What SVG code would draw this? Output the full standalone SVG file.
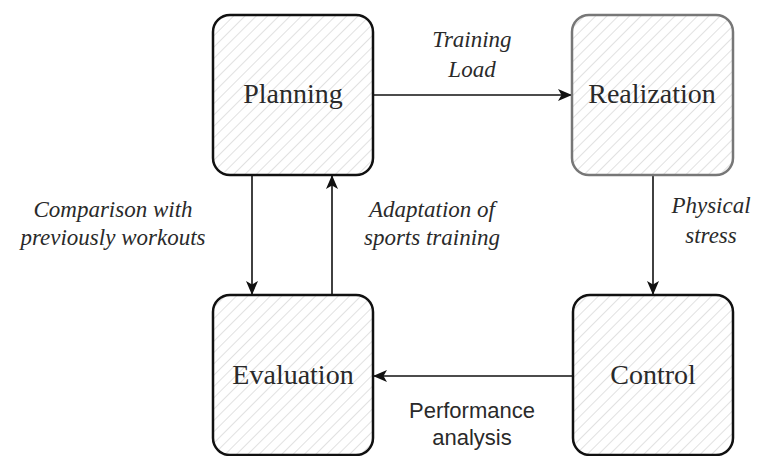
<svg xmlns="http://www.w3.org/2000/svg" width="757" height="456" viewBox="0 0 757 456">
  <style>
    .box { stroke: #111; stroke-width: 2.5; fill: url(#hatch); }
    .box.gray { stroke: #777; }
    .node { font-family: "Liberation Serif", "Times New Roman", serif; font-size: 28px; fill: #2a2a2a; text-anchor: middle; }
    .lbl { font-family: "Liberation Serif", "Times New Roman", serif; font-style: italic; font-size: 23px; fill: #2a2a2a; text-anchor: middle; }
    .sans { font-family: "Liberation Sans", Arial, sans-serif; font-size: 22px; fill: #2a2a2a; text-anchor: middle; }
    .edge { stroke: #111; stroke-width: 1.6; fill: none; marker-end: url(#arrow); }
  </style>
  <defs>
    <pattern id="hatch" patternUnits="userSpaceOnUse" width="8" height="8" patternTransform="rotate(45)">
      <rect width="8" height="8" fill="#fff"/>
      <line x1="0" y1="0" x2="0" y2="8" stroke="#d4d4d4" stroke-width="1.4"/>
    </pattern>
    <marker id="arrow" markerWidth="14" markerHeight="12" refX="13" refY="6" orient="auto" markerUnits="userSpaceOnUse" viewBox="0 0 14 12">
      <path d="M0,0 L14,6 L0,12 L3.5,6 Z" fill="#111"/>
    </marker>
  </defs>
  <rect width="757" height="456" fill="#fff"/>

  <g id="connectors">
    <line class="edge" x1="374" y1="95" x2="571" y2="95"/>
    <line class="edge" x1="653" y1="176" x2="653" y2="294"/>
    <line class="edge" x1="572" y1="376" x2="374" y2="376"/>
    <line class="edge" x1="252" y1="176" x2="252" y2="294"/>
    <line class="edge" x1="332" y1="294" x2="332" y2="176"/>
  </g>

  <g id="planning">
    <rect class="box" x="213" y="15" width="160" height="160" rx="17"/>
    <text class="node" x="293" y="103">Planning</text>
  </g>
  <g id="realization">
    <rect class="box gray" x="572" y="15" width="161" height="160" rx="17"/>
    <text class="node" x="652" y="103">Realization</text>
  </g>
  <g id="evaluation">
    <rect class="box" x="213" y="295" width="160" height="160" rx="17"/>
    <text class="node" x="293" y="384">Evaluation</text>
  </g>
  <g id="control">
    <rect class="box" x="573" y="295" width="160" height="160" rx="17"/>
    <text class="node" x="653" y="384">Control</text>
  </g>

  <g id="labels">
    <text class="lbl" x="472" y="47">Training</text>
    <text class="lbl" x="472" y="77">Load</text>
    <text class="lbl" x="711" y="213">Physical</text>
    <text class="lbl" x="711" y="243">stress</text>
    <text class="lbl" x="113" y="217">Comparison with</text>
    <text class="lbl" x="113" y="245">previously workouts</text>
    <text class="lbl" x="432" y="217">Adaptation of</text>
    <text class="lbl" x="432" y="245">sports training</text>
    <text class="sans" x="472" y="418">Performance</text>
    <text class="sans" x="472" y="445">analysis</text>
  </g>
</svg>
